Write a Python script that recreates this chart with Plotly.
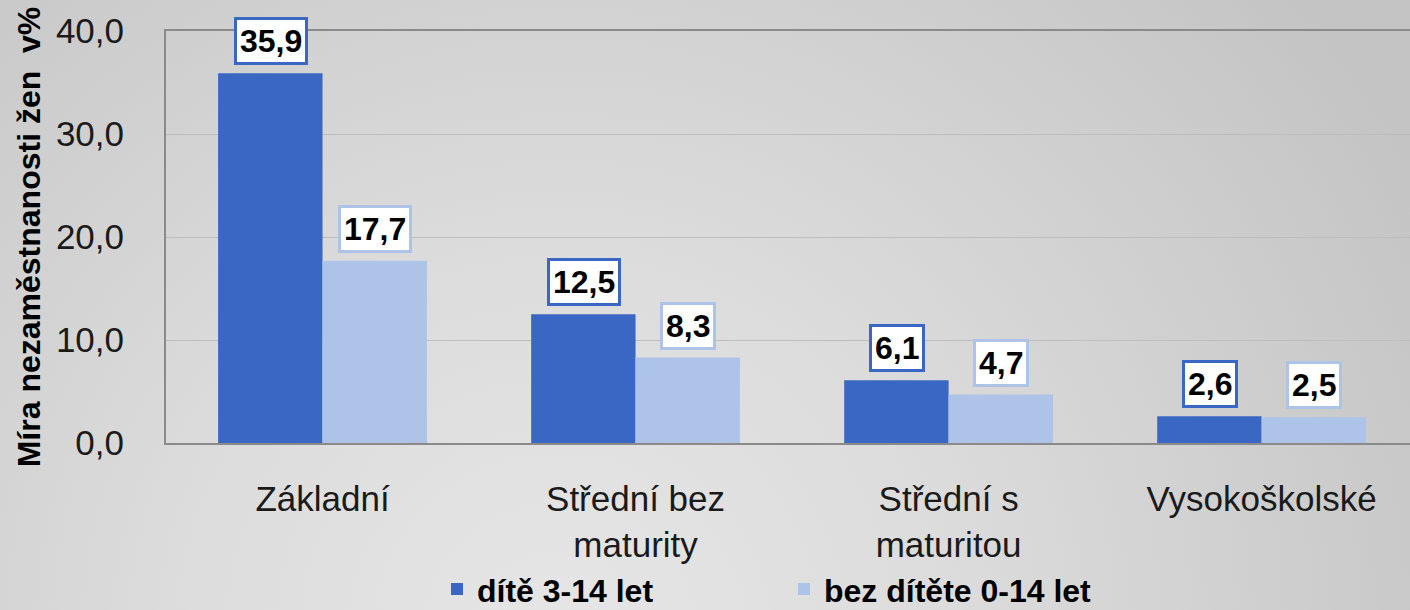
import base64
import plotly.graph_objects as go

categories = ["Základní", "Střední bez<br>maturity", "Střední s<br>maturitou", "Vysokoškolské"]
series_names = ["dítě 3-14 let", "bez dítěte 0-14 let"]
vals_child = [35.9, 12.5, 6.1, 2.6]
vals_nochild = [17.7, 8.3, 4.7, 2.5]
y_ticks = [0, 10, 20, 30, 40]
y_title = "Míra nezaměstnanosti žen  v%"

C_DARK = "#3967c3"
C_LIGHT = "#aec3e8"
FONT = "Liberation Sans, Arial, sans-serif"

W, H = 1410, 610
ML, MT, MB, MR = 166, 31, 167, 0
PW, PH = W - ML - MR, H - MT - MB

svg = f'''<svg xmlns="http://www.w3.org/2000/svg" width="{W}" height="{H}" viewBox="0 0 {W} {H}" preserveAspectRatio="none">
<defs><radialGradient id="g" gradientUnits="userSpaceOnUse" cx="560" cy="640" r="980">
<stop offset="0" stop-color="#e6e6e6"/><stop offset="0.4" stop-color="#dcdcdc"/><stop offset="1" stop-color="#c4c4c4"/>
</radialGradient></defs><rect width="{W}" height="{H}" fill="url(#g)"/></svg>'''
bg_src = "data:image/svg+xml;base64," + base64.b64encode(svg.encode()).decode()

fig = go.Figure()
fig.add_trace(go.Bar(x=categories, y=vals_child, name=series_names[0], marker=dict(color=C_DARK, line=dict(width=0))))
fig.add_trace(go.Bar(x=categories, y=vals_nochild, name=series_names[1], marker=dict(color=C_LIGHT, line=dict(width=0))))

annotations = []
for vals, color, shift in [(vals_child, C_DARK, -52), (vals_nochild, C_LIGHT, 52)]:
    for c, v in zip(categories, vals):
        annotations.append(dict(
            x=c, y=v, xref="x", yref="y", xshift=shift, yshift=8,
            yanchor="bottom", xanchor="center", showarrow=False,
            text=f"<b>{v:.1f}</b>".replace(".", ","),
            font=dict(family=FONT, size=32, color="#000000"),
            bgcolor="#ffffff", bordercolor=color, borderwidth=3, borderpad=3,
        ))

fig.update_layout(
    width=W, height=H,
    margin=dict(l=ML, r=MR, t=MT, b=MB, pad=0, autoexpand=False),
    paper_bgcolor="#d6d6d6", plot_bgcolor="rgba(0,0,0,0)",
    separators=", ",
    barmode="group", bargap=0.333, bargroupgap=0,
    font=dict(family=FONT, color="#1a1a1a"),
    annotations=annotations,
    images=[dict(source=bg_src, xref="paper", yref="paper",
                 x=-ML / PW, y=1 + MT / PH, sizex=W / PW, sizey=H / PH,
                 xanchor="left", yanchor="top", sizing="stretch", layer="below")],
    legend=dict(orientation="h", x=(437 - ML) / PW, xanchor="left", y=-0.355, yanchor="middle",
                font=dict(family=FONT, size=32, color="#000000", weight="bold"),
                bgcolor="rgba(0,0,0,0)", entrywidth=302, entrywidthmode="pixels",
                itemsizing="constant", traceorder="normal", borderwidth=0),
    showlegend=True,
)
fig.update_xaxes(range=[-0.5, 3.474], showline=True, linecolor="#8a8a8a", linewidth=2, mirror=True,
                 showgrid=False, ticks="", tickfont=dict(size=35, color="#1a1a1a"),
                 ticklabelstandoff=24, automargin=False)
fig.update_yaxes(range=[0, 40], tickvals=y_ticks, tickformat=".1f", showline=True, linecolor="#8a8a8a",
                 linewidth=2, mirror=True, showgrid=True, gridcolor="#bdbdbd", gridwidth=1,
                 zeroline=False, ticks="", tickfont=dict(size=35, color="#1a1a1a"),
                 ticklabelstandoff=33, automargin=False,
                 title=dict(text=f"<b>{y_title}</b>", font=dict(size=32, color="#000000"), standoff=6))

fig.write_html("out.html", config={"displayModeBar": False},
               post_script="document.body.style.margin='0';document.body.style.overflow='hidden';")
